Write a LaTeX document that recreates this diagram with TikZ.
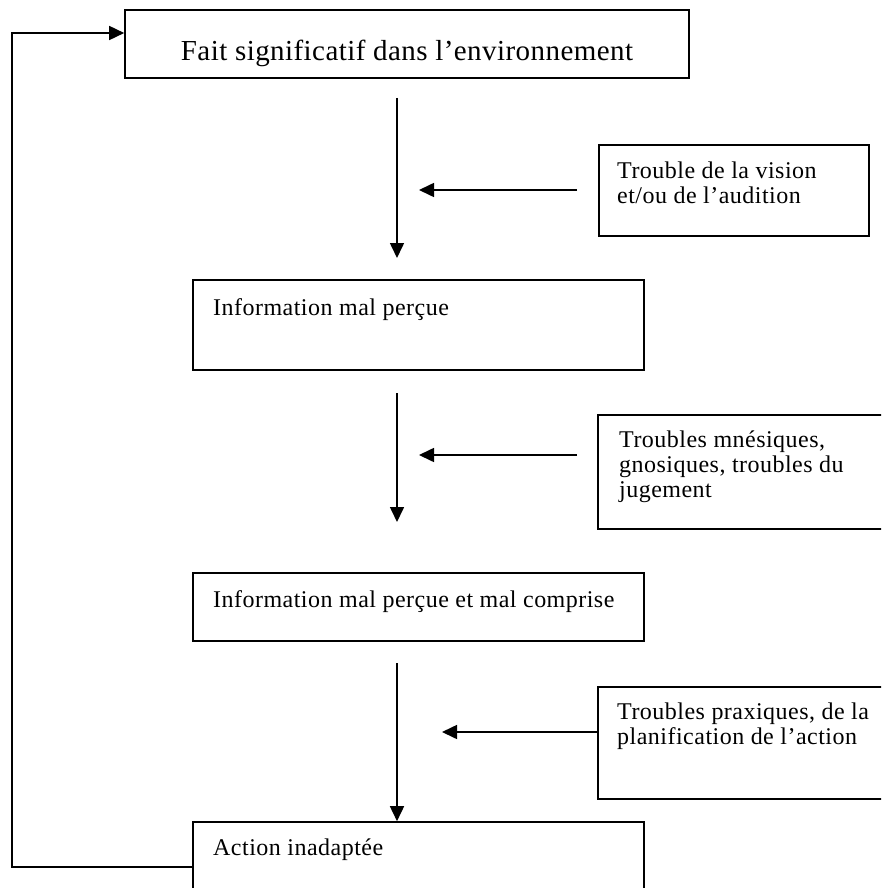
\documentclass[tikz,border=0pt]{standalone}
\usepackage{fontspec}
\setmainfont{Liberation Serif}[LetterSpace=2]
\newfontfamily\topfont{Liberation Serif}[LetterSpace=1.5]
\usetikzlibrary{arrows.meta}
\tikzset{
  frame/.style={draw, line width=1.6pt, rectangle, inner sep=0pt},
  txt/.style={inner sep=0pt, anchor=base west, font=\fontsize{24}{25}\selectfont},
  conn/.style={line width=1.6pt, -{Triangle[length=15pt,width=14pt]}},
}
\begin{document}
\begin{tikzpicture}[x=1pt,y=-1pt]
\useasboundingbox (0,0) rectangle (881,888);
\clip (0,0) rectangle (881,888);
% boxes
\node[frame, minimum width=564pt, minimum height=68pt] (b1) at (407,44) {};
\node[frame, minimum width=270pt, minimum height=91pt] (t1) at (734,190.5) {};
\node[frame, minimum width=451pt, minimum height=90pt] (b2) at (418.5,325) {};
\node[frame, minimum width=300pt, minimum height=114pt] (t2) at (748,472) {};
\node[frame, minimum width=451pt, minimum height=68pt] (b3) at (418.5,607) {};
\node[frame, minimum width=300pt, minimum height=112pt] (t3) at (748,743) {};
\node[frame, minimum width=451pt, minimum height=90pt] (b4) at (418.5,867) {};
% texts
\node[inner sep=0pt, anchor=base, font=\topfont\fontsize{29}{32}\selectfont] (l1) at (407,61) {Fait significatif dans l’environnement};
\node[txt] (l2) at (617,178) {\begin{tabular}[t]{@{}l@{}}Trouble de la vision\\ et/ou de l’audition\end{tabular}};
\node[txt] (l3) at (213,315) {Information mal perçue};
\node[txt] (l4) at (619,447) {\begin{tabular}[t]{@{}l@{}}Troubles mnésiques,\\ gnosiques, troubles du\\ jugement\end{tabular}};
\node[txt] (l5) at (213,607) {Information mal perçue et mal comprise};
\node[txt] (l6) at (617,719) {\begin{tabular}[t]{@{}l@{}}Troubles praxiques, de la\\ planification de l’action\end{tabular}};
\node[txt] (l7) at (213,855) {Action inadaptée};
% connector end points
\coordinate (a1s) at (397,98);
\coordinate (a1e) at (397,258);
\coordinate (h1s) at (577,190);
\coordinate (h1e) at (419,190);
\coordinate (a2s) at (397,393);
\coordinate (a2e) at (397,522);
\coordinate (h2s) at (577,455);
\coordinate (h2e) at (419,455);
\coordinate (a3s) at (397,663);
\coordinate (h3e) at (442,732);
\coordinate (fb) at (12,867);
\coordinate (fbt) at (12,33);
% connectors
\draw[conn] (a1s) -- (a1e);
\draw[conn] (h1s) -- (h1e);
\draw[conn] (a2s) -- (a2e);
\draw[conn] (h2s) -- (h2e);
\draw[conn] (a3s) -- (a3s |- b4.north);
\draw[conn] (t3.west |- h3e) -- (h3e);
\draw[conn] (b4.west |- fb) -- (fb) -- (fbt) -- (b1.west |- fbt);
\end{tikzpicture}
\end{document}
